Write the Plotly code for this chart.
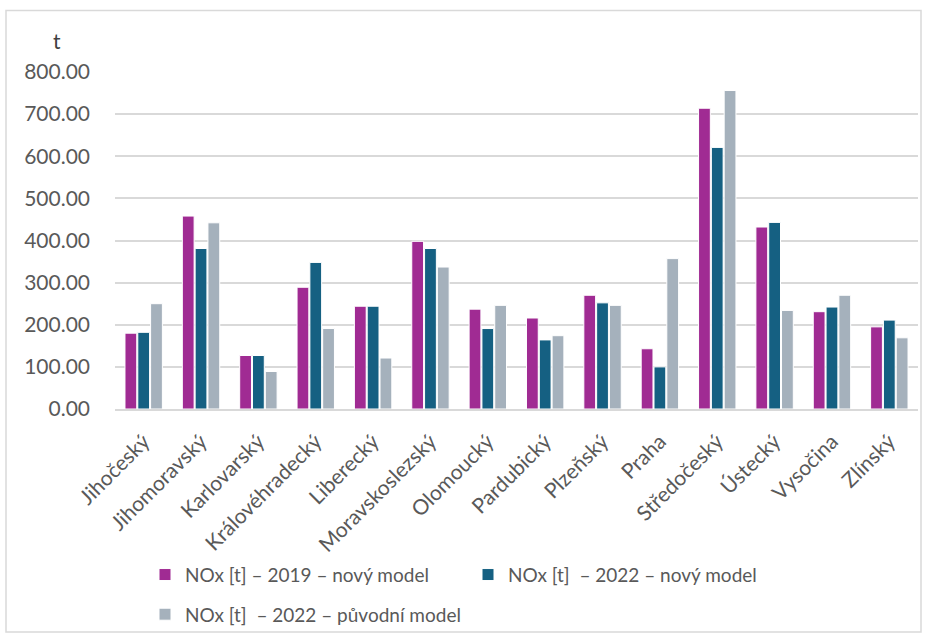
import plotly.graph_objects as go

categories = ["Jihočeský", "Jihomoravský", "Karlovarský", "Královéhradecký", "Liberecký",
              "Moravskoslezský", "Olomoucký", "Pardubický", "Plzeňský", "Praha",
              "Středočeský", "Ústecký", "Vysočina", "Zlínský"]
nox_2019_new = [180, 458, 127, 289, 244, 398, 237, 216, 270, 143, 714, 432, 231, 195]
nox_2022_new = [182, 381, 127, 348, 244, 381, 191, 164, 252, 100, 621, 443, 242, 211]
nox_2022_old = [250, 442, 89, 191, 121, 337, 246, 174, 246, 357, 756, 234, 270, 169]
series_names = ["NOx [t] – 2019 – nový model", "NOx [t]  – 2022 – nový model",
                "NOx [t]  – 2022 – původní model"]
y_ticks = [0, 100, 200, 300, 400, 500, 600, 700, 800]

colors = ["#A02B93", "#156082", "#A5B1BC"]
FONT = "Lato"
W, H = 925, 640
ml, mr, mt, mb = 115, 7, 72, 228
pw, ph = W - ml - mr, H - mt - mb

fig = go.Figure()
for i, (name, vals) in enumerate(zip(series_names, [nox_2019_new, nox_2022_new, nox_2022_old])):
    fig.add_trace(go.Bar(
        x=categories, y=vals, name=name,
        marker=dict(color=colors[i], line=dict(color="white", width=1)),
        legend="legend" if i < 2 else "legend2",
    ))

def px_x(x):
    return (x - ml) / pw

def px_y(y):
    return (H - mb - y) / ph

fig.update_layout(
    width=W, height=H,
    margin=dict(l=ml, r=mr, t=mt, b=mb),
    paper_bgcolor="white", plot_bgcolor="white",
    font=dict(family=FONT, color="#595959"),
    barmode="group", bargap=0.33, bargroupgap=0.08,
    xaxis=dict(tickangle=-45, tickfont=dict(size=21, color="#595959"),
               showline=True, linecolor="#D9D9D9", linewidth=2, ticks="",
               showgrid=False, ticklabelstandoff=10),
    yaxis=dict(range=[0, 800], tickvals=y_ticks,
               ticktext=[f"{v:.2f}" for v in y_ticks],
               tickfont=dict(size=21, color="#595959"),
               showgrid=True, gridcolor="#D9D9D9", gridwidth=1.5,
               zeroline=False, ticks="", ticklabelstandoff=24),
    legend=dict(orientation="h", x=px_x(145), y=px_y(560), xanchor="left", yanchor="top",
                font=dict(size=19, color="#595959"), entrywidth=278,
                itemwidth=30, bgcolor="rgba(0,0,0,0)"),
    legend2=dict(orientation="h", x=px_x(145), y=px_y(600), xanchor="left", yanchor="top",
                 font=dict(size=19, color="#595959"), itemwidth=30,
                 bgcolor="rgba(0,0,0,0)"),
    annotations=[dict(text="t", xref="paper", yref="paper", x=px_x(57), y=px_y(40),
                      xanchor="center", yanchor="middle",
                      showarrow=False, font=dict(size=21, color="#404040", family=FONT))],
    shapes=[dict(type="rect", xref="paper", yref="paper",
                 x0=px_x(6), x1=px_x(921), y0=px_y(637), y1=px_y(10),
                 line=dict(color="#D9D9D9", width=1.5), fillcolor="rgba(0,0,0,0)",
                 layer="below")],
)

fig.write_html("out.html")
